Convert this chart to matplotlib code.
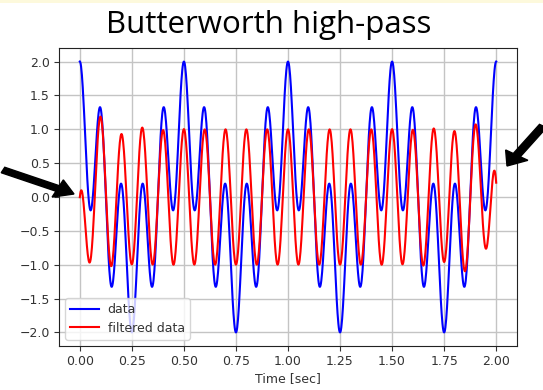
import numpy as np
import matplotlib
matplotlib.use("Agg")
import matplotlib.pyplot as plt
from matplotlib.patches import FancyArrow, Rectangle

# Test signal: two cosines, sampled over two seconds
sample_rate = 500.0          # Hz
duration = 2.0               # seconds
component_freqs = [2.0, 10.0]   # Hz
component_amps = [1.0, 1.0]

# High-pass filter settings
cutoff = 5.0                 # Hz
order = 5

x_ticks = [0.00, 0.25, 0.50, 0.75, 1.00, 1.25, 1.50, 1.75, 2.00]
y_ticks = [-2.0, -1.5, -1.0, -0.5, 0.0, 0.5, 1.0, 1.5, 2.0]


def butter_highpass(n, wn):
    """Digital Butterworth high-pass (bilinear transform, pre-warped)."""
    k = np.arange(-n + 1, n, 2)
    p = -np.exp(1j * np.pi * k / (2 * n))
    fs = 2.0
    wo = 2 * fs * np.tan(np.pi * wn / fs)
    z_hp = np.zeros(n)
    p_hp = wo / p
    k_hp = np.real(1.0 / np.prod(-p))
    fs2 = 2 * fs
    z_z = (fs2 + z_hp) / (fs2 - z_hp)
    p_z = (fs2 + p_hp) / (fs2 - p_hp)
    k_z = k_hp * np.real(np.prod(fs2 - z_hp) / np.prod(fs2 - p_hp))
    return np.real(k_z * np.poly(z_z)), np.real(np.poly(p_z))


def lfilter(b, a, x, zi):
    n = len(a)
    z = zi.copy()
    y = np.empty_like(x)
    for i, xi in enumerate(x):
        yi = b[0] * xi + z[0]
        for j in range(n - 2):
            z[j] = b[j + 1] * xi + z[j + 1] - a[j + 1] * yi
        z[n - 2] = b[n - 1] * xi - a[n - 1] * yi
        y[i] = yi
    return y


def lfilter_zi(b, a):
    n = len(a)
    comp = np.zeros((n - 1, n - 1))
    comp[0, :] = -a[1:] / a[0]
    comp[1:, :-1] += np.eye(n - 2)
    return np.linalg.solve(np.eye(n - 1) - comp.T, b[1:] - a[1:] * b[0])


def filtfilt(b, a, x):
    edge = 3 * max(len(a), len(b))
    left = 2 * x[0] - x[edge:0:-1]
    right = 2 * x[-1] - x[-2:-(edge + 2):-1]
    ext = np.concatenate([left, x, right])
    zi = lfilter_zi(b, a)
    y = lfilter(b, a, ext, zi * ext[0])
    y = lfilter(b, a, y[::-1], zi * y[-1])[::-1]
    return y[edge:-edge]


t = np.linspace(0, duration, int(duration * sample_rate) + 1)
data = sum(A * np.cos(2 * np.pi * f * t) for f, A in zip(component_freqs, component_amps))
b, a = butter_highpass(order, cutoff / (0.5 * sample_rate))
filtered = filtfilt(b, a, data)

fig = plt.figure(figsize=(5.43, 3.90), dpi=100)
fig.patch.set_facecolor("white")
fig.patches.append(Rectangle((0, 1 - 2.5 / 390), 1, 2.5 / 390, transform=fig.transFigure,
                             facecolor="#fdf9dc", edgecolor="none"))

ax = fig.add_axes([59 / 543, 1 - 346 / 390, 458 / 543, 298 / 390])
ax.plot(t, data, color="blue", lw=1.5, label="data")
ax.plot(t, filtered, color="red", lw=1.5, label="filtered data")
ax.set_xlim(-0.1, 2.1)
ax.set_ylim(-2.2, 2.2)
ax.set_xticks(x_ticks)
ax.set_xticklabels([f"{v:.2f}" for v in x_ticks])
ax.set_yticks(y_ticks)
ax.set_yticklabels([f"{v:.1f}".replace("-", "\u2212") for v in y_ticks])
ax.tick_params(labelsize=9, colors="#333333", length=3.5, width=0.8, pad=3)
ax.grid(True, color="#c4c4c4", lw=1.0)
ax.set_axisbelow(True)
for s in ax.spines.values():
    s.set_color("#222222")
    s.set_linewidth(0.8)
ax.set_xlabel("Time [sec]", fontsize=9, color="#333333", labelpad=3)
ax.legend(loc="lower left", fontsize=9, handlelength=2.3, borderpad=0.4,
          labelspacing=0.45, handletextpad=0.7, borderaxespad=0.5,
          framealpha=0.8, edgecolor="#cccccc", labelcolor="#333333")

fig.text(269 / 543, 1 - 25 / 390, "Butterworth high-pass", fontsize=22.5,
         family="Open Sans", ha="center", va="center", color="black")

# Arrows pointing at the edges of the filtered trace
fig.patches.append(FancyArrow(3 / 543, 1 - 170 / 390, 71 / 543, -24 / 390,
                              width=6 / 390, head_width=19 / 390, head_length=18 / 543,
                              length_includes_head=True, transform=fig.transFigure,
                              color="black"))
fig.patches.append(FancyArrow(543 / 543, 1 - 126 / 390, -36 / 543, -40 / 390,
                              width=6 / 390, head_width=19 / 390, head_length=18 / 543,
                              length_includes_head=True, transform=fig.transFigure,
                              color="black"))

fig.savefig("out.png", dpi=100)
